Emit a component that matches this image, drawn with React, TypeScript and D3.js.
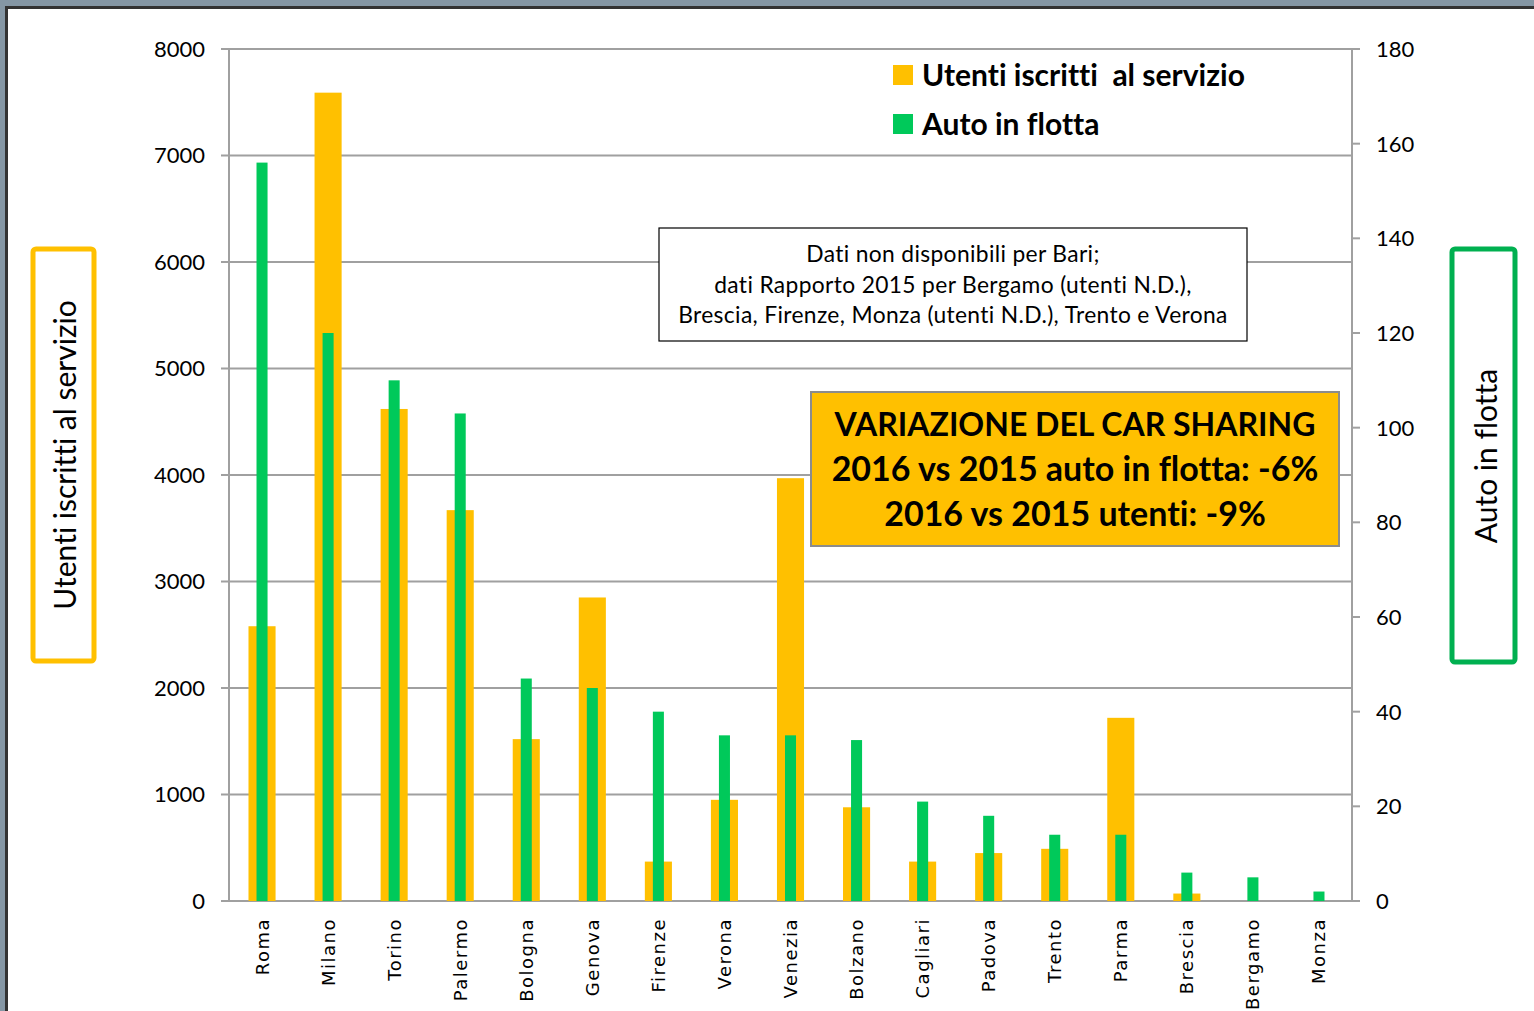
import React from "react";
import * as d3 from "d3";

const cities = ["Roma","Milano","Torino","Palermo","Bologna","Genova","Firenze","Verona","Venezia","Bolzano","Cagliari","Padova","Trento","Parma","Brescia","Bergamo","Monza"];
const utenti = [2580,7590,4620,3670,1520,2850,370,950,3970,880,370,450,490,1720,70,0,0];
const auto = [156,120,110,103,47,45,40,35,35,34,21,18,14,14,6,5,2];
const leftTicks = [0,1000,2000,3000,4000,5000,6000,7000,8000];
const rightTicks = [0,20,40,60,80,100,120,140,160,180];
const noteLines = ["Dati non disponibili per Bari;","dati Rapporto 2015 per Bergamo (utenti N.D.),","Brescia, Firenze, Monza (utenti N.D.), Trento e Verona"];
const varLines = ["VARIAZIONE DEL CAR SHARING","2016 vs 2015 auto in flotta: -6%","2016 vs 2015 utenti: -9%"];
const legendItems = [{label:"Utenti iscritti  al servizio", color:"#FFC000"},{label:"Auto in flotta", color:"#00C95A"}];

const W = 1534, H = 1011;
const X0 = 229, X1 = 1352, Y0 = 901, Y1 = 49;
const ORANGE = "#FFC000", GREEN = "#00C95A";
const FONT = "Lato, 'Open Sans', sans-serif";
const NOLIG = { fontVariantLigatures: "none" as const, whiteSpace: "pre" as const };

export default function App() {
  const x = d3.scaleBand<string>().domain(cities).range([X0, X1]).padding(0);
  const bw = x.bandwidth();
  const yL = d3.scaleLinear().domain([0, 8000]).range([Y0, Y1]);
  const yR = d3.scaleLinear().domain([0, 180]).range([Y0, Y1]);
  const ow = bw * 0.41, gw = bw * 0.167;
  const grid = "#A0A0A0";
  return (
    <div style={{position:"absolute", left:0, top:0, width:W, height:H}}>
      <svg width={W} height={H} style={{display:"block"}}>
        <rect x={0} y={0} width={W} height={H} fill="#8597A5" />
        <rect x={5} y={6} width={W} height={H} fill="#333" />
        <rect x={8} y={9} width={W} height={H} fill="#fff" />
        {leftTicks.map(t => (
          <g key={"l"+t}>
            <line x1={X0 - 8} x2={X1} y1={yL(t)} y2={yL(t)} stroke={grid} strokeWidth={2} />
            <text x={205} y={yL(t)} dy="0.36em" textAnchor="end" fontFamily={FONT} fontSize={22} fill="#000">{t}</text>
          </g>
        ))}
        {rightTicks.map(t => (
          <g key={"r"+t}>
            <line x1={X1} x2={X1 + 8} y1={yR(t)} y2={yR(t)} stroke={grid} strokeWidth={2} />
            <text x={1376} y={yR(t)} dy="0.36em" textAnchor="start" fontFamily={FONT} fontSize={22} fill="#000">{t}</text>
          </g>
        ))}
        <line x1={X0} x2={X0} y1={Y1} y2={Y0} stroke={grid} strokeWidth={2} />
        <line x1={X1} x2={X1} y1={Y1} y2={Y0} stroke={grid} strokeWidth={2} />
        {cities.map((c, i) => {
          const cx = (x(c) as number) + bw / 2;
          return (
            <g key={c}>
              {utenti[i] > 0 && <rect x={cx - ow / 2} y={yL(utenti[i])} width={ow} height={Y0 - yL(utenti[i])} fill={ORANGE} />}
              <rect x={cx - gw / 2} y={yR(auto[i])} width={gw} height={Y0 - yR(auto[i])} fill={GREEN} />
            </g>
          );
        })}
        {cities.map(c => {
          const cx = (x(c) as number) + bw / 2;
          return (
            <text key={"t"+c} transform={`translate(${cx},918) rotate(-90)`} dy="0.36em" textAnchor="end" fontFamily="'DejaVu Sans', sans-serif" fontSize={18} letterSpacing={1.5} fill="#000">{c}</text>
          );
        })}
        {legendItems.map((l, i) => (
          <g key={l.label}>
            <rect x={893} y={65 + i * 49} width={20} height={20} fill={l.color} />
            <text x={922} y={75 + i * 49} dy="0.36em" style={NOLIG} fontFamily={FONT} fontWeight={700} fontSize={30} fill="#000">{l.label}</text>
          </g>
        ))}
        <rect x={659} y={228} width={588} height={113} fill="#fff" stroke="#000" strokeWidth={1.2} />
        {noteLines.map((s, i) => (
          <text key={s} x={953} y={254 + i * 30.5} dy="0.36em" textAnchor="middle" style={NOLIG} fontFamily={FONT} fontSize={22.8} letterSpacing={0.35} fill="#000">{s}</text>
        ))}
        <rect x={811} y={392} width={528} height={154} fill={ORANGE} stroke="#8C8C8C" strokeWidth={2} />
        {varLines.map((s, i) => (
          <text key={s} x={1075} y={424 + i * 45} dy="0.36em" textAnchor="middle" style={NOLIG} fontFamily={FONT} fontWeight={700} fontSize={i === 0 ? 32 : 34} fill="#000">{s}</text>
        ))}
        <rect x={33} y={249} width={61} height={412} rx={3} fill="#fff" stroke={ORANGE} strokeWidth={5} />
        <text transform="translate(65,455) rotate(-90)" dy="0.36em" textAnchor="middle" style={NOLIG} fontFamily={FONT} fontSize={30} fill="#000">Utenti iscritti al servizio</text>
        <rect x={1452} y={249} width={63} height={413} rx={3} fill="#fff" stroke="#00B050" strokeWidth={5} />
        <text transform="translate(1486,456) rotate(-90)" dy="0.36em" textAnchor="middle" style={NOLIG} fontFamily={FONT} fontSize={30} fill="#000">Auto in flotta</text>
      </svg>
    </div>
  );
}
